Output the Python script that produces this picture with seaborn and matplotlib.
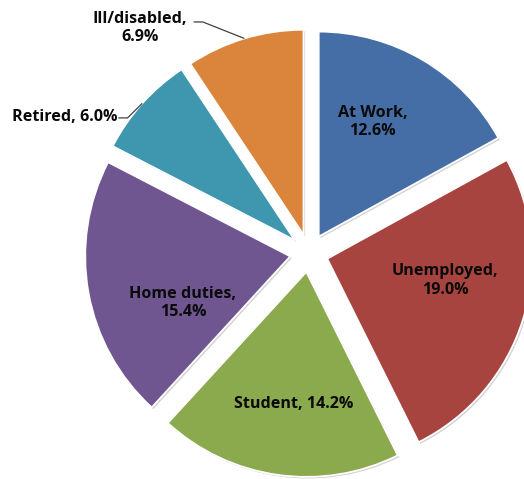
import numpy as np
import matplotlib
matplotlib.use("Agg")
import matplotlib.pyplot as plt
import matplotlib.patheffects as pe
import seaborn as sns

# Share of population by principal economic status
categories = ["At Work", "Unemployed", "Student", "Home duties", "Retired", "Ill/disabled"]
shares = [12.6, 19.0, 14.2, 15.4, 6.0, 6.9]
colors = ["#466EA6", "#A8443F", "#8BA94D", "#6F5690", "#3E97AF", "#DB843C"]

# label anchors (data units, pie radius = 1)
label_pos = [(0.31, 0.64), (0.665, -0.135), (-0.075, -0.735), (-0.615, -0.245),
             (-0.935, 0.663), (-0.825, 1.098)]
label_text = ["At Work,\n12.6%", "Unemployed,\n19.0%", "Student, 14.2%",
              "Home duties,\n15.4%", "Retired, 6.0%", "Ill/disabled,\n6.9%"]
label_ha = ["center", "center", "center", "center", "right", "center"]
# slices whose labels sit outside and get a leader line
leader_start = {4: (-0.93, 0.659), 5: (-0.563, 1.127)}

sns.set_theme(style="white")
plt.rcParams["font.family"] = ["Open Sans", "DejaVu Sans"]

fig = plt.figure(figsize=(5.24, 4.79), dpi=100)
ax = fig.add_axes([0, 0, 1, 1])

wedges, _ = ax.pie(
    shares,
    colors=colors,
    startangle=90,
    counterclock=False,
    explode=[0.093] * len(shares),
    radius=1.0,
    wedgeprops=dict(edgecolor="white", linewidth=1.3),
)
for w in wedges:
    w.set_path_effects([
        pe.SimplePatchShadow(offset=(1.2, -1.2), shadow_rgbFace="#808080", alpha=0.35),
        pe.Normal(),
    ])

for i, (txt, (x, y), ha) in enumerate(zip(label_text, label_pos, label_ha)):
    ax.text(x, y, txt, ha=ha, va="center", fontsize=11.6, fontweight="bold",
            color="#0a0a0a", linespacing=1.2)

# leader lines from the outside labels to the middle of each slice's rim
for i, (sx, sy) in leader_start.items():
    w = wedges[i]
    mid = np.deg2rad((w.theta1 + w.theta2) / 2)
    cx, cy = w.center
    ex, ey = cx + w.r * np.cos(mid), cy + w.r * np.sin(mid)
    kx = sx + 0.045
    ax.plot([sx, kx, ex], [sy, sy, ey], color="#404040", lw=0.9,
            solid_capstyle="butt")

ax.set_xlim(-309 / 205, (524 - 309) / 205)
ax.set_ylim(-(479 - 253) / 205, 253 / 205)
ax.set_aspect("equal", adjustable="box")
ax.axis("off")

fig.savefig("out.png", dpi=100, facecolor="white")
